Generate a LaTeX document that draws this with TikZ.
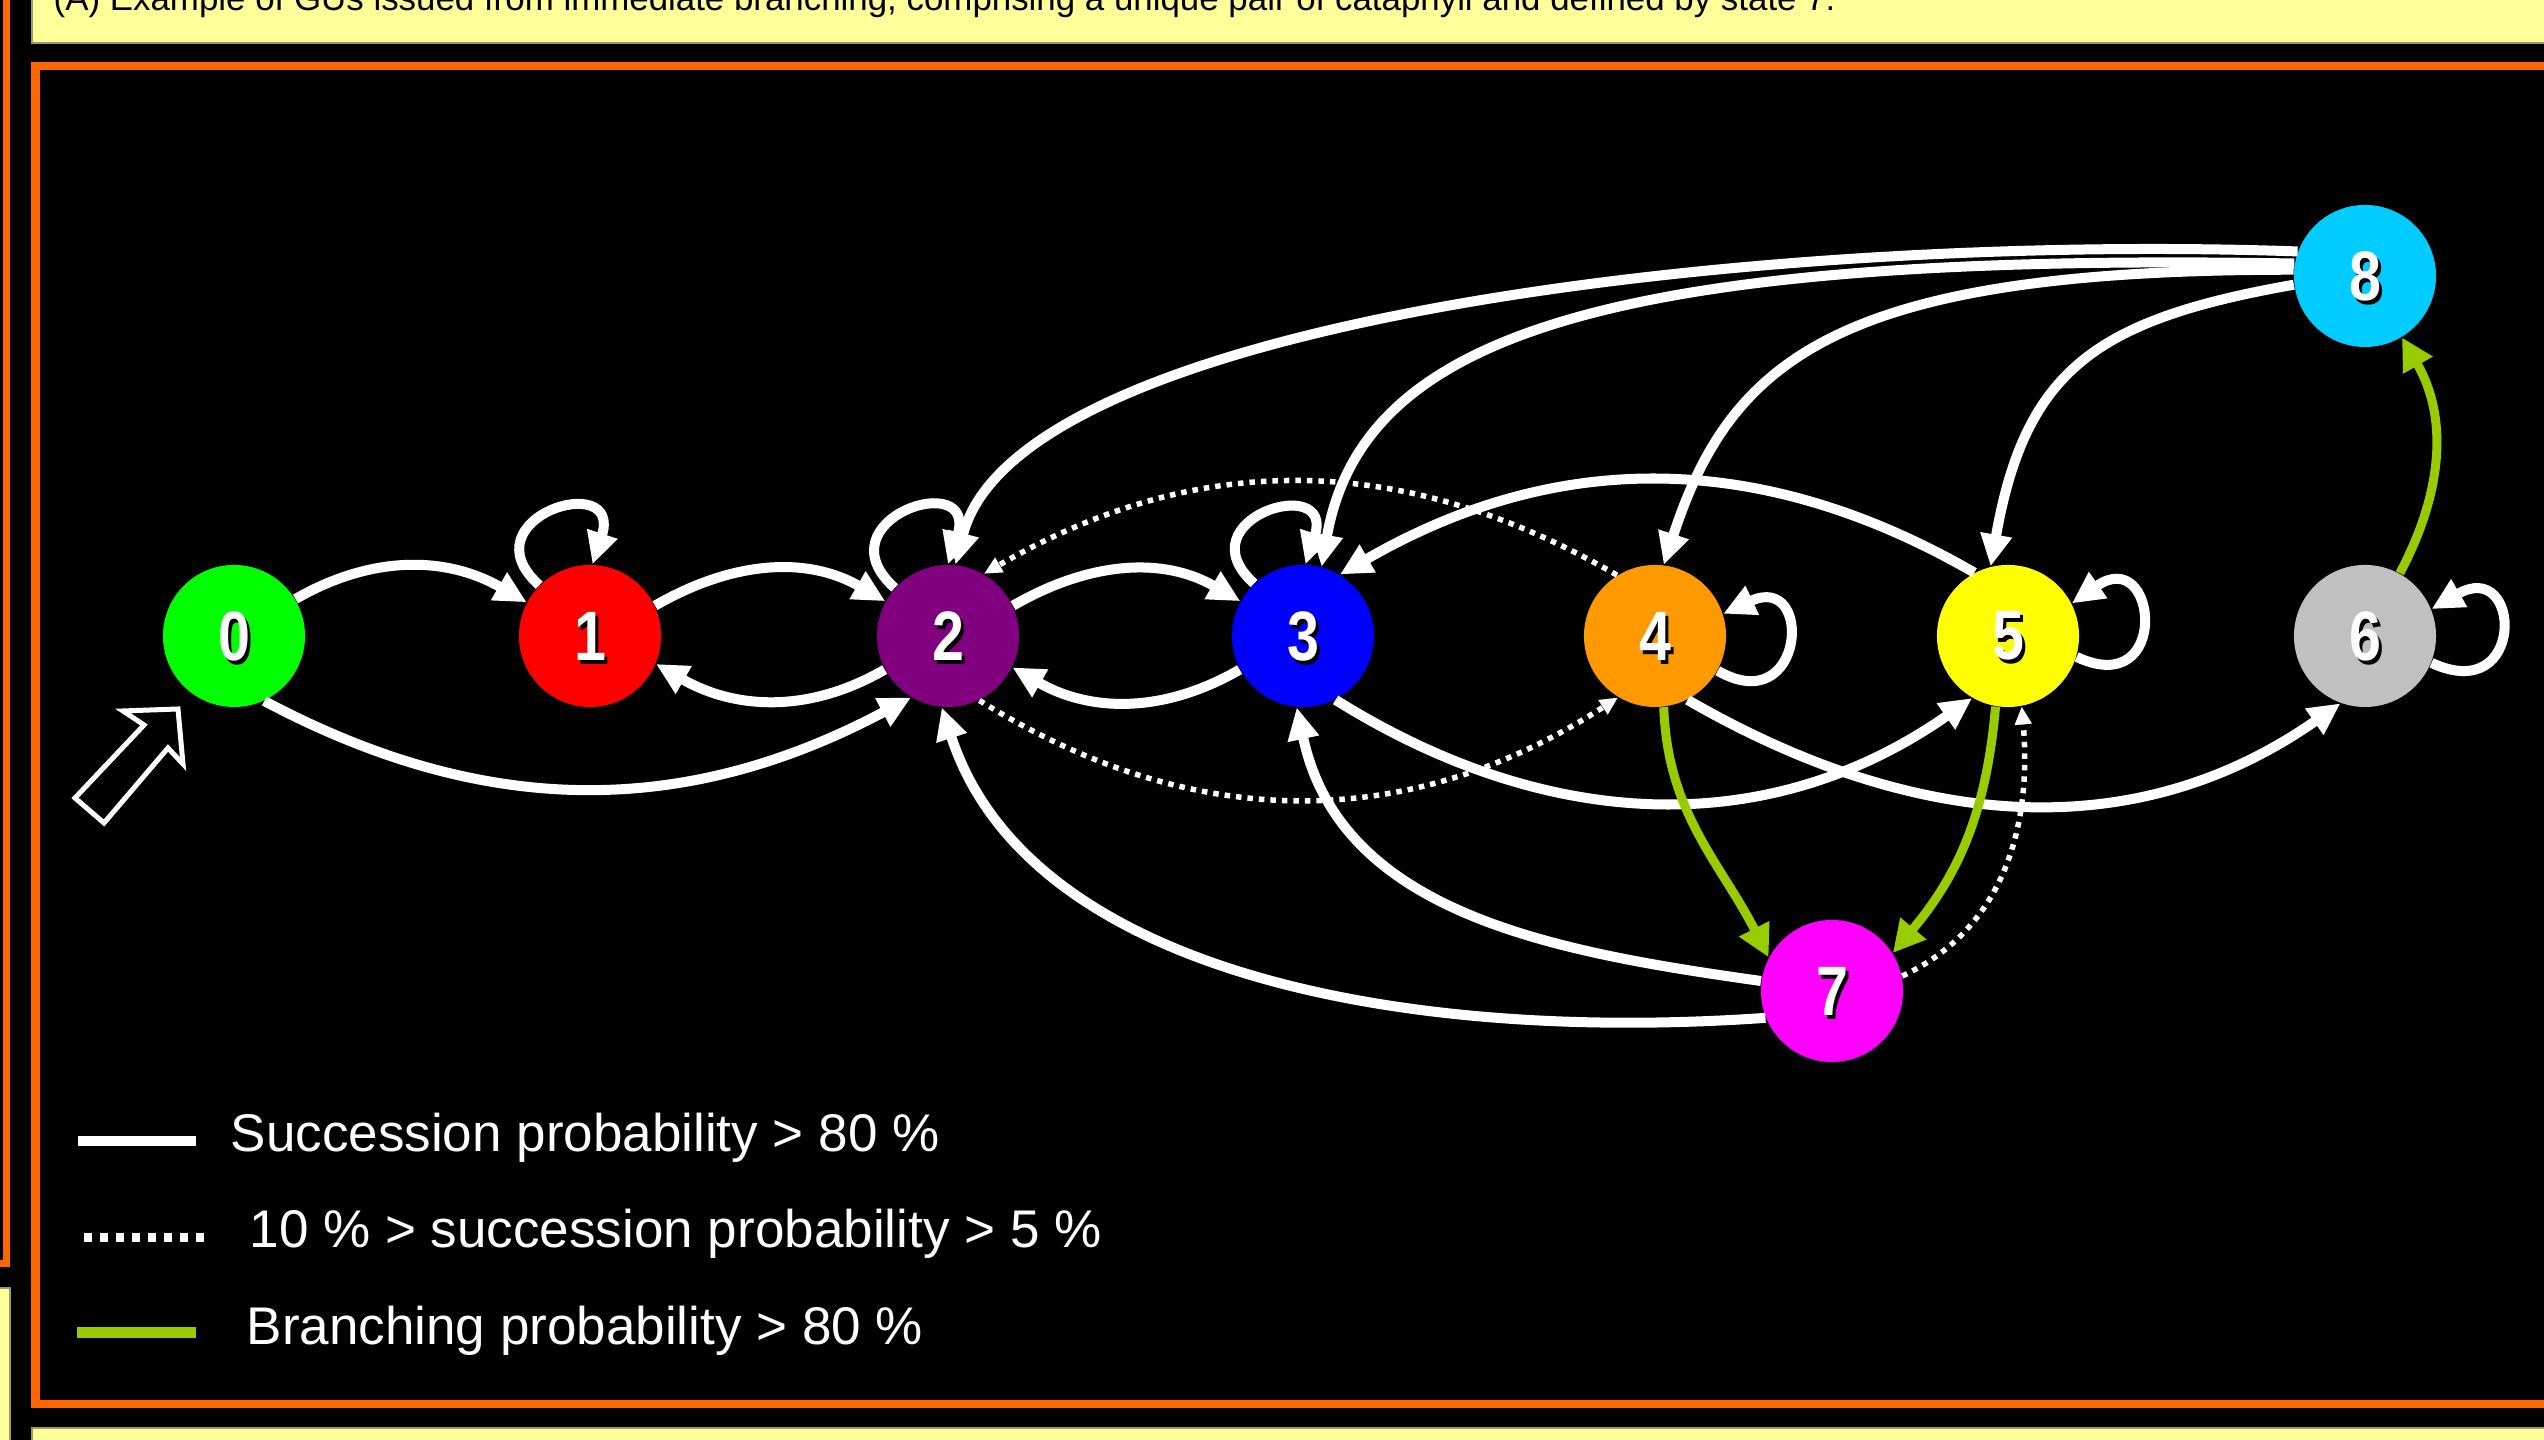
\documentclass[tikz,border=0pt]{standalone}
\usepackage{fontspec}
\usepackage{graphicx}
\setmainfont{Liberation Sans}
\usetikzlibrary{arrows.meta}
\definecolor{cZero}{HTML}{00FF00}
\definecolor{cOne}{HTML}{FF0000}
\definecolor{cTwo}{HTML}{800080}
\definecolor{cThree}{HTML}{0000FF}
\definecolor{cFour}{HTML}{FF9900}
\definecolor{cFive}{HTML}{FFFF00}
\definecolor{cSix}{HTML}{C0C0C0}
\definecolor{cSeven}{HTML}{FF00FF}
\definecolor{cEight}{HTML}{00CCFF}
\definecolor{branchgreen}{HTML}{99CC00}
\definecolor{frameorange}{HTML}{FF6600}
\definecolor{paleyellow}{HTML}{FFFF99}
\definecolor{yellowedge}{HTML}{9C9C60}
\newcommand\stlabel[1]{\scalebox{0.82}[1]{\rlap{\hspace{0.04cm}\smash{\raisebox{-0.04cm}{\color{black}#1}}}#1}}
\begin{document}
\begin{tikzpicture}[x=0.01cm, y=0.01cm,
  state/.style={circle, minimum size=1.42cm, inner sep=0pt, draw=none, text=white,
    font=\fontsize{19.9}{20}\selectfont\bfseries},
  succ/.style={draw=white, line width=0.1cm, -{Triangle[length=0.32cm,width=0.3cm]}},
  rare/.style={draw=white, line width=0.055cm, dash pattern=on 0.055cm off 0.06cm,
    -{Triangle[length=0.18cm,width=0.16cm]}},
  branch/.style={draw=branchgreen, line width=0.09cm, -{Triangle[length=0.32cm,width=0.32cm]}},
  legendtext/.style={text=white, font=\fontsize{15.08}{18}\selectfont, anchor=base west, inner sep=0pt},
  panel/.style={fill=paleyellow, draw=yellowedge, line width=0.015cm}
]
\useasboundingbox (0,0) rectangle (2544,1440);
\clip (0,0) rectangle (2544,1440);
\fill[black] (0,0) rectangle (2544,1440);

% panels and frames
\path[panel] (32,1397) rectangle (2600,1500);
\path[panel] (32,-50) rectangle (2600,12);
\path[panel] (-50,-50) rectangle (10,152);
\draw[frameorange, line width=0.07cm] (-50,176.5) rectangle (6.5,1500);
\draw[frameorange, line width=0.08cm] (35.5,1373.5) rectangle (2600,36);

\node[anchor=base west, inner sep=0pt, font=\fontsize{9.92}{12}\selectfont, text=black] (title) at (53,1429)
  {(A) Example of GUs issued from immediate branching, comprising a unique pair of cataphyll and defined by state 7.};

% states
\node[state, fill=cZero]  (n0) at (234,804)  {\stlabel{0}};
\node[state, fill=cOne]   (n1) at (590,804)  {\stlabel{1}};
\node[state, fill=cTwo]   (n2) at (948,804)  {\stlabel{2}};
\node[state, fill=cThree] (n3) at (1303,804) {\stlabel{3}};
\node[state, fill=cFour]  (n4) at (1655,804) {\stlabel{4}};
\node[state, fill=cFive]  (n5) at (2008,804) {\stlabel{5}};
\node[state, fill=cSix]   (n6) at (2365,804) {\stlabel{6}};
\node[state, fill=cSeven] (n7) at (1832,449) {\stlabel{7}};
\node[state, fill=cEight] (n8) at (2365,1164) {\stlabel{8}};

% initial arrow
\draw[white, line width=0.05cm, line join=miter]
  (178,731) -- (123,729) -- (144,715) -- (75,642) -- (104,617) -- (168,692) -- (183,676) -- cycle;

% transitions
\draw[succ] (n0.31) to[out=30,in=150] (n1.152);
\draw[succ] (n0.-65) to[out=-28,in=-152] (n2.-121);
\draw[succ] (n1.135) to[out=138,in=72,looseness=4.5] (n1.88);
\draw[succ] (n1.25) to[out=30,in=150] (n2.151);
\draw[succ] (n2.-152) to[out=-150,in=-30] (n1.-23);
\draw[succ] (n2.138) to[out=138,in=72,looseness=4.5] (n2.90);
\draw[succ] (n2.25) to[out=30,in=150] (n3.151);
\draw[succ] (n3.-152) to[out=-150,in=-30] (n2.-26);
\draw[succ] (n3.133) to[out=138,in=72,looseness=4.5] (n3.88);

\draw[rare] (n2.-64) to[out=-32,in=-147] (n4.-121);
\draw[rare] (n4.122) to[out=150,in=30] (n2.60);
\draw[succ] (n5.118) to[out=150,in=30] (n3.59);
\draw[succ] (n3.-63) to[out=-32,in=-145] (n5.-120);
\draw[succ] (n4.-63) to[out=-30,in=-145] (n6.-110);

\draw[succ] (n4.-29) to[out=-30,in=25,looseness=4.5] (n4.18);
\draw[succ] (n5.-17) to[out=-25,in=35,looseness=5] (n5.27);
\draw[succ] (n6.-22) to[out=-25,in=30,looseness=5] (n6.22);

\draw[branch] (n4.-83) to[out=-88,in=117] (n7.152);
\draw[branch] (n5.-100) to[out=-95,in=50] (n7.32);
\draw[rare] (n7.12) to[out=25,in=-85] (n5.-79);
\draw[succ] (n7.172) to[out=172,in=-78] (n3.-95);
\draw[succ] (n7.-158) to[out=184,in=-72,out distance=3.6cm,in distance=2.8cm] (n2.-95);
\draw[branch] (n6.61) to[out=62,in=-60] (n8.-59);

\draw[succ] (n8.160) to[out=178,in=76,out distance=5.33cm,in distance=2.53cm] (n2.84);
\draw[succ] (n8.170) to[out=179,in=80,out distance=7cm,in distance=2.3cm] (n3.75);
\draw[succ] (n8.175) to[out=180,in=72,out distance=4.5cm,in distance=2.2cm] (n4.83);
\draw[succ] (n8.187) to[out=190,in=80,out distance=2cm,in distance=2cm] (n5.104);

% legend
\coordinate (la1) at (78,299);  \coordinate (lb1) at (196,299);
\coordinate (la2) at (84,202);  \coordinate (lb2) at (204,202);
\coordinate (la3) at (77,107);  \coordinate (lb3) at (196,107);
\draw[white, line width=0.1cm] (la1) -- (lb1);
\draw[white, line width=0.09cm, dash pattern=on 0.08cm off 0.08cm] (la2) -- (lb2);
\draw[branchgreen, line width=0.11cm] (la3) -- (lb3);
\node[legendtext] (t1) at (230,288) {Succession probability > 80 \%};
\node[legendtext] (t2) at (249,192) {10 \% > succession probability > 5 \%};
\node[legendtext] (t3) at (246,95) {Branching probability > 80 \%};
\end{tikzpicture}
\end{document}
